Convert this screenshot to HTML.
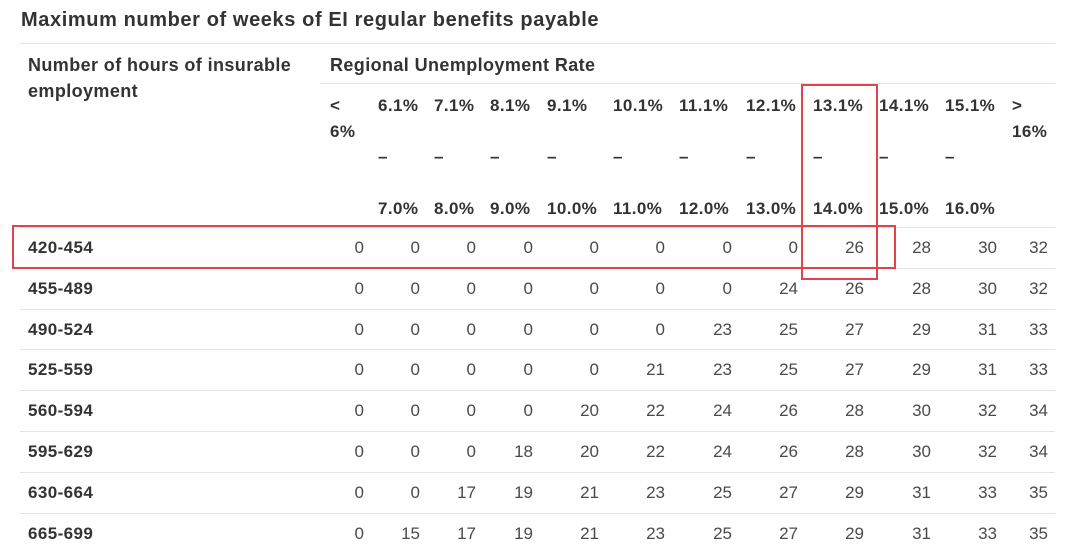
<!DOCTYPE html>
<html><head><meta charset="utf-8"><style>
body{margin:0;width:1080px;height:553px;background:#fff;overflow:hidden;position:relative;font-family:"Liberation Sans",sans-serif;color:#333}
.a{position:absolute;white-space:nowrap}
.h{font-weight:bold;font-size:17px;letter-spacing:0.4px;color:#333}
.n{font-size:17px;color:#4a4a4a;text-align:right}
.ln{position:absolute;height:1px;background:#e4e4e4}
.box{position:absolute;border:2px solid #e0434e;box-sizing:border-box}
</style></head><body>
<div class="a" style="left:21px;top:9px;font-size:20px;letter-spacing:0.6px;font-weight:bold;color:#333">Maximum number of weeks of EI regular benefits payable</div>
<div class="ln" style="left:20px;top:43px;width:1035px"></div>
<div class="a h" style="left:28px;top:52px;line-height:26px;font-size:18px">Number of hours of insurable<br>employment</div>
<div class="a h" style="left:330px;top:55px;line-height:20px;font-size:18px">Regional Unemployment Rate</div>
<div class="ln" style="left:320px;top:83px;width:735px"></div>
<div id="t"></div>
<div class="box" style="left:12px;top:225px;width:884px;height:44px"></div>
<div class="box" style="left:801px;top:84px;width:77px;height:196px"></div>
<script>
const rowLabels=["420-454","455-489","490-524","525-559","560-594","595-629","630-664","665-699"];
const colTop=["<","6.1%","7.1%","8.1%","9.1%","10.1%","11.1%","12.1%","13.1%","14.1%","15.1%",">"];
const colBottom=["","7.0%","8.0%","9.0%","10.0%","11.0%","12.0%","13.0%","14.0%","15.0%","16.0%",""];
const values=[
[0,0,0,0,0,0,0,0,26,28,30,32],
[0,0,0,0,0,0,0,24,26,28,30,32],
[0,0,0,0,0,0,23,25,27,29,31,33],
[0,0,0,0,0,21,23,25,27,29,31,33],
[0,0,0,0,20,22,24,26,28,30,32,34],
[0,0,0,18,20,22,24,26,28,30,32,34],
[0,0,17,19,21,23,25,27,29,31,33,35],
[0,15,17,19,21,23,25,27,29,31,33,35]];
const L=[330,378,434,490,547,613,679,746,813,879,945,1012];
const R=[364,420,476,533,599,665,732,798,864,931,997,1048];
const t=document.getElementById('t');
function add(cls,txt,css){const d=document.createElement('div');d.className='a '+cls;d.textContent=txt;d.style.cssText=css;t.appendChild(d);return d;}
colTop.forEach((c,i)=>{
 const d=add('h',c,`left:${L[i]}px;top:96px`);
 
 
 if(i==0){const e=add('h','6%',`left:${L[i]}px;top:122px`);}
 if(i==11){const e=add('h','16%',`left:${L[i]}px;top:122px`);}
 if(colBottom[i]){
  const s=add('h','–',`left:${L[i]}px;top:147px`);
  
  
  const b=add('h',colBottom[i],`left:${L[i]}px;top:199px`);
  
  
 }
});
rowLabels.forEach((r,j)=>{
 const y=227+j*40.8;
 const ln=document.createElement('div');ln.className='ln';ln.style.cssText=`left:20px;top:${Math.round(y)}px;width:1035px`;
 
 
 t.appendChild(ln);
 const cy=Math.round(y+11);
 const lb=add('h',r,`left:28px;top:${cy}px`);
 
 
 values[j].forEach((v,i)=>{
  const c=add('n',String(v),`left:${R[i]-60}px;width:60px;top:${cy}px`);
  
  
 });
});
</script>
</body></html>
